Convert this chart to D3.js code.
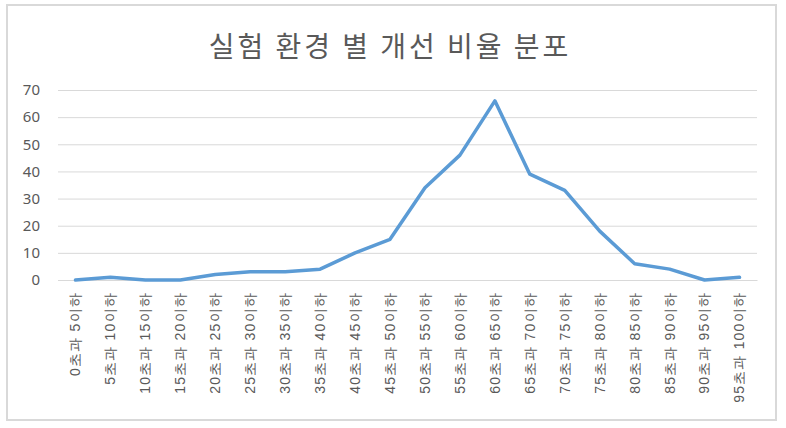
<!DOCTYPE html>
<html><head><meta charset="utf-8">
<script src="https://cdn.jsdelivr.net/npm/d3@7"></script>
<style>
html,body{margin:0;padding:0;background:#fff;}
svg{display:block;font-family:"Noto Sans CJK KR","Noto Sans",sans-serif;}
</style></head>
<body>
<svg id="c" width="786" height="428"></svg>
<script>
const title = "실험 환경 별 개선 비율 분포";
const categories = ["0초과 5이하","5초과 10이하","10초과 15이하","15초과 20이하","20초과 25이하","25초과 30이하","30초과 35이하","35초과 40이하","40초과 45이하","45초과 50이하","50초과 55이하","55초과 60이하","60초과 65이하","65초과 70이하","70초과 75이하","75초과 80이하","80초과 85이하","85초과 90이하","90초과 95이하","95초과 100이하"];
const values = [0,1,0,0,2,3,3,4,10,15,34,46,66,39,33,18,6,4,0,1];
const yTicks = [0,10,20,30,40,50,60,70];

(function(){
const svg = d3.select("#c");
svg.append("rect").attr("x",7).attr("y",5).attr("width",769).attr("height",415)
  .attr("fill","#fff").attr("stroke","#d9d9d9").attr("stroke-width",2);

const mL=58, mR=757, mT=90, mB=280;
const x = d3.scaleBand().domain(categories).range([mL,mR]);
const y = d3.scaleLinear().domain([0,70]).range([mB,mT]);

const yAxis = d3.axisLeft(y).tickValues(yTicks).tickSize(-(mR-mL)).tickPadding(18);
const gy = svg.append("g").attr("transform",`translate(${mL},0)`).call(yAxis);
gy.select(".domain").remove();
gy.selectAll(".tick line").attr("stroke","#d9d9d9").attr("stroke-width",1);
gy.selectAll(".tick text").attr("fill","#595959").style("font-size","15px").style("font-family","'Noto Sans','DejaVu Sans',sans-serif");

const xAxis = d3.axisBottom(x).tickSize(0).tickPadding(0);
const gx = svg.append("g").attr("transform",`translate(0,${mB})`).call(xAxis);
gx.select(".domain").attr("stroke","#d9d9d9");
gx.selectAll(".tick text")
  .attr("fill","#595959").style("font-size","14px").style("letter-spacing","1.2px")
  .attr("transform","rotate(-90)")
  .attr("text-anchor","end").attr("dy","0.35em").attr("x",-12).attr("y",0);

const line = d3.line().x((d,i)=>x(categories[i])+x.bandwidth()/2).y(d=>y(d));
svg.append("path").datum(values).attr("d",line).attr("fill","none")
  .attr("stroke","#5b9bd5").attr("stroke-width",3.5).attr("stroke-linejoin","round").attr("stroke-linecap","round");

svg.append("text").attr("x",390).attr("y",57).attr("text-anchor","middle")
  .attr("fill","#595959").style("font-size","28px").style("letter-spacing","3px").text(title);
})();
</script>
</body></html>
